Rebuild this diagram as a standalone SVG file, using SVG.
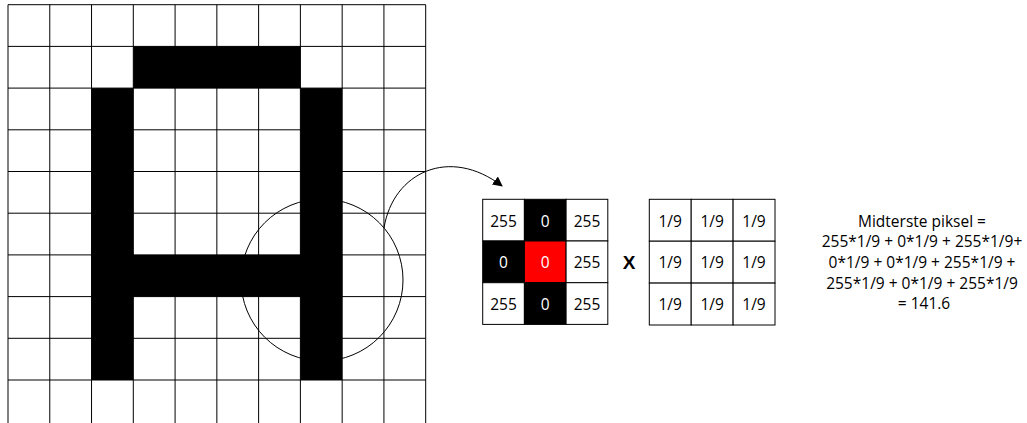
<svg xmlns="http://www.w3.org/2000/svg" width="1027" height="423" viewBox="0 0 1027 423">
<defs>
<style>
.gl{stroke:#000;stroke-width:1;fill:none}
.blk{fill:#000}
.cell{stroke:#000;stroke-width:1}
.t{font-family:"Open Sans","Liberation Sans",sans-serif;font-size:15.5px;text-anchor:middle}
.tw{fill:#fff}
.tb{fill:#000}
.f{font-family:"Open Sans","Liberation Sans",sans-serif;font-size:15.5px;text-anchor:middle;fill:#000}
</style>
<marker id="ah" viewBox="0 0 10 10" refX="9" refY="5" markerWidth="10" markerHeight="10" markerUnits="userSpaceOnUse" orient="auto">
<path d="M0,0 L10,5 L0,10 Z" fill="#000"/>
</marker>
</defs>
<rect width="1027" height="423" fill="#fff"/>
<g id="image-grid">
<path class="gl" d="M8,4.7V423M49.77,4.7V423M91.54,4.7V423M133.31,4.7V423M175.08,4.7V423M216.85,4.7V423M258.62,4.7V423M300.39,4.7V423M342.16,4.7V423M383.93,4.7V423M425.7,4.7V423M8,4.7H425.7M8,46.4H425.7M8,88.1H425.7M8,129.8H425.7M8,171.5H425.7M8,213.2H425.7M8,254.9H425.7M8,296.6H425.7M8,338.3H425.7M8,380H425.7"/>
<circle cx="322" cy="280" r="81" class="gl"/>
<rect class="blk" x="133.31" y="46.4" width="167.08" height="41.7"/>
<rect class="blk" x="91.54" y="88.1" width="41.77" height="291.9"/>
<rect class="blk" x="300.39" y="88.1" width="41.77" height="291.9"/>
<rect class="blk" x="91.54" y="254.9" width="250.62" height="41.7"/>
</g>
<g id="connectors">
<path class="gl" d="M384,228 C393,172 450,146 502,186" marker-end="url(#ah)"/>
</g>
<g id="pixel-matrix">
<rect class="cell" x="482.7" y="199.3" width="41.7" height="41.7" fill="#fff"/>
<rect class="cell" x="524.4" y="199.3" width="41.7" height="41.7" fill="#000"/>
<rect class="cell" x="566.1" y="199.3" width="41.7" height="41.7" fill="#fff"/>
<rect class="cell" x="482.7" y="241" width="41.7" height="41.7" fill="#000"/>
<rect class="cell" x="524.4" y="241" width="41.7" height="41.7" fill="#ff0000"/>
<rect class="cell" x="566.1" y="241" width="41.7" height="41.7" fill="#fff"/>
<rect class="cell" x="482.7" y="282.7" width="41.7" height="41.7" fill="#fff"/>
<rect class="cell" x="524.4" y="282.7" width="41.7" height="41.7" fill="#000"/>
<rect class="cell" x="566.1" y="282.7" width="41.7" height="41.7" fill="#fff"/>
<text class="t tb" x="503.5" y="226.5">255</text>
<text class="t tw" x="545.2" y="226.5">0</text>
<text class="t tb" x="587" y="226.5">255</text>
<text class="t tw" x="503.5" y="268.3">0</text>
<text class="t tw" x="545.2" y="268.3">0</text>
<text class="t tb" x="587" y="268.3">255</text>
<text class="t tb" x="503.5" y="310">255</text>
<text class="t tw" x="545.2" y="310">0</text>
<text class="t tb" x="587" y="310">255</text>
</g>
<g id="times">
<text x="629" y="269" style="font-family:'Liberation Sans',sans-serif;font-size:19px;font-weight:bold;text-anchor:middle;fill:#000">X</text>
</g>
<g id="kernel-matrix">
<rect class="cell" x="649.3" y="199.3" width="41.9" height="41.9" fill="#fff"/>
<rect class="cell" x="691.2" y="199.3" width="41.9" height="41.9" fill="#fff"/>
<rect class="cell" x="733.1" y="199.3" width="41.9" height="41.9" fill="#fff"/>
<rect class="cell" x="649.3" y="241.2" width="41.9" height="41.9" fill="#fff"/>
<rect class="cell" x="691.2" y="241.2" width="41.9" height="41.9" fill="#fff"/>
<rect class="cell" x="733.1" y="241.2" width="41.9" height="41.9" fill="#fff"/>
<rect class="cell" x="649.3" y="283.1" width="41.9" height="41.9" fill="#fff"/>
<rect class="cell" x="691.2" y="283.1" width="41.9" height="41.9" fill="#fff"/>
<rect class="cell" x="733.1" y="283.1" width="41.9" height="41.9" fill="#fff"/>
<text class="t tb" x="670.2" y="226.5">1/9</text>
<text class="t tb" x="712.1" y="226.5">1/9</text>
<text class="t tb" x="754" y="226.5">1/9</text>
<text class="t tb" x="670.2" y="268.4">1/9</text>
<text class="t tb" x="712.1" y="268.4">1/9</text>
<text class="t tb" x="754" y="268.4">1/9</text>
<text class="t tb" x="670.2" y="310.3">1/9</text>
<text class="t tb" x="712.1" y="310.3">1/9</text>
<text class="t tb" x="754" y="310.3">1/9</text>
</g>
<g id="formula">
<text class="f" x="922" y="226.7">Midterste piksel =</text>
<text class="f" x="922" y="247.3">255*1/9 + 0*1/9 + 255*1/9+</text>
<text class="f" x="922" y="268">0*1/9 + 0*1/9 + 255*1/9 +</text>
<text class="f" x="922" y="288.6">255*1/9 + 0*1/9 + 255*1/9</text>
<text class="f" x="924" y="309.3">= 141.6</text>
</g>
</svg>
